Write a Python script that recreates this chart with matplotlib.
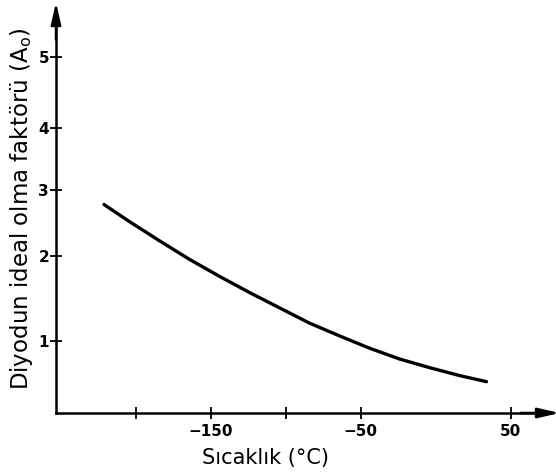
import numpy as np
import matplotlib
matplotlib.use("Agg")
import matplotlib.pyplot as plt

# Data
temp_c = [-221, -204, -184, -164, -144, -124, -104, -84, -64, -44, -24, -4, 16, 34]
ideality = [2.78, 2.52, 2.23, 1.96, 1.76, 1.57, 1.39, 1.21, 1.06, 0.90, 0.75, 0.63, 0.52, 0.435]

x_major = [-150, -50, 50]
x_minor = [-200, -100]
y_ticks = [1, 2, 3, 4, 5]

# The printed y axis is hand-drawn with uneven tick spacing; reproduce it
# with a piecewise-linear scale.
scale_vals = [0, 1, 2, 3, 4, 5, 6]
scale_pos = [0, 72, 157, 223, 285, 356, 427]

def fwd(v):
    return np.interp(v, scale_vals, scale_pos, left=np.nan, right=np.nan)

def inv(p):
    return np.interp(p, scale_pos, scale_vals, left=np.nan, right=np.nan)

fig = plt.figure(figsize=(5.56, 4.75), dpi=100)
ax = fig.add_axes([56 / 556, 62 / 475, 489 / 556, 393 / 475])

ax.plot(temp_c, ideality, color="black", lw=2.4, solid_capstyle="round",
        solid_joinstyle="round")

ax.set_yscale("function", functions=(fwd, inv))
ax.set_xlim(-253, 73)
ax.set_ylim(0, 5.52)

ax.set_xticks(x_major)
ax.set_xticklabels(["\u2212150", "\u221250", "50"], fontweight="bold", fontsize=11)
ax.set_xticks(x_minor, minor=True)
ax.set_yticks(y_ticks)
ax.set_yticklabels([str(t) for t in y_ticks], fontweight="bold", fontsize=11)
ax.yaxis.set_minor_locator(matplotlib.ticker.NullLocator())

ax.tick_params(axis="both", which="both", direction="inout", length=8, width=1.3,
               color="black")
ax.tick_params(axis="x", pad=4)
ax.tick_params(axis="y", pad=1)

for s in ["top", "right"]:
    ax.spines[s].set_visible(False)
for s in ["left", "bottom"]:
    ax.spines[s].set_linewidth(1.8)

# Axis arrows
ax.annotate("", xy=(0, 1.045), xytext=(0, 0.95), xycoords="axes fraction",
            arrowprops=dict(arrowstyle="-|>,head_length=1.3,head_width=0.3",
                            color="black", lw=1.8, shrinkA=0, shrinkB=0),
            annotation_clip=False)
ax.annotate("", xy=(1.03, 0), xytext=(0.95, 0), xycoords="axes fraction",
            arrowprops=dict(arrowstyle="-|>,head_length=1.3,head_width=0.3",
                            color="black", lw=1.8, shrinkA=0, shrinkB=0),
            annotation_clip=False)

ax.set_xlabel("S\u0131cakl\u0131k (\u00b0C)", fontsize=15, labelpad=2)
ax.xaxis.set_label_coords((266 - 56) / 489, -0.09)
ax.set_ylabel(r"Diyodun ideal olma faktörü (A$_\mathrm{o}$)", fontsize=16.5)
ax.yaxis.set_label_coords(-0.042, 0.52)

fig.savefig("out.png", dpi=100)
